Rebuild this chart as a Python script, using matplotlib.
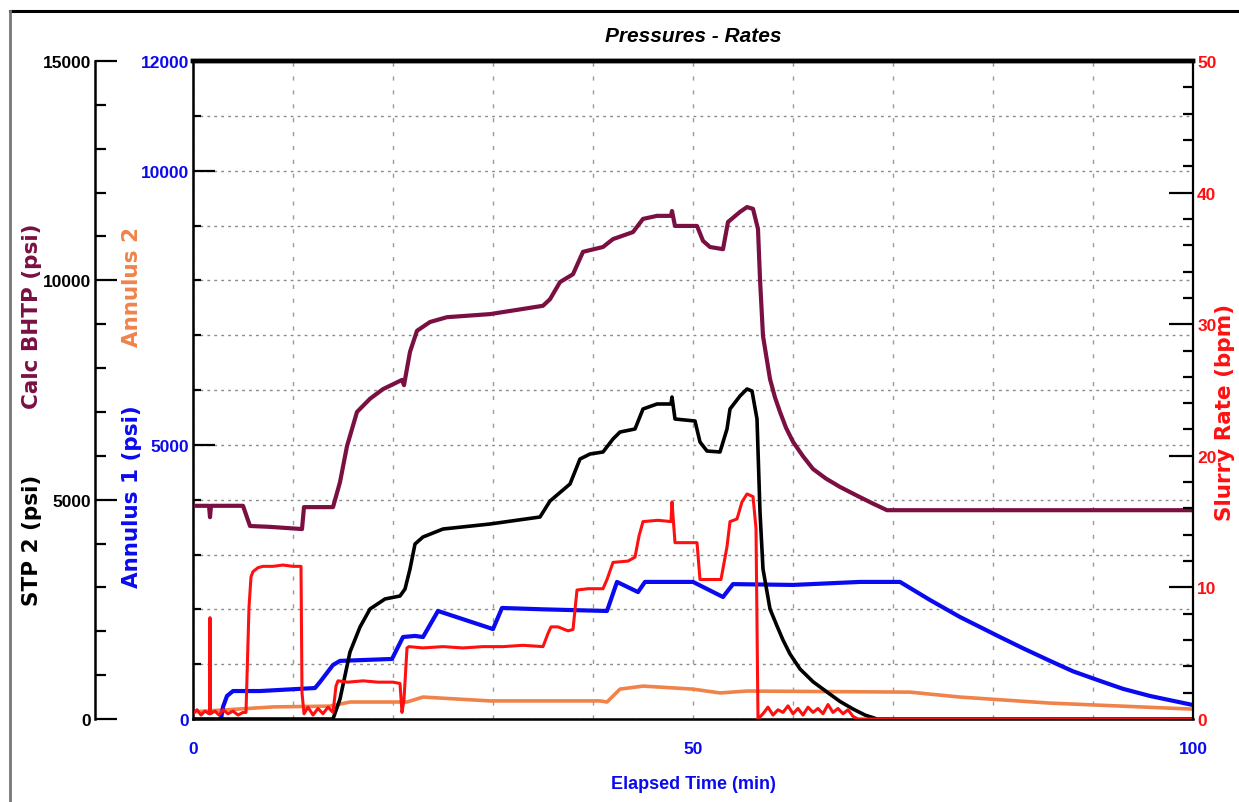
import matplotlib
matplotlib.use('Agg')
import matplotlib.pyplot as plt
from matplotlib.ticker import MultipleLocator, FixedLocator, FuncFormatter
from matplotlib.lines import Line2D

# ---------------- data ----------------
# STP 2 (psi) - black, left outer axis 0-15000
stp_t = [0, 14.0, 14.7, 15.7, 16.7, 17.7, 19.2, 20.7, 21.2, 21.7, 22.2, 23.0, 25.0, 29.7, 34.7, 35.7,
         37.7, 38.7, 39.7, 41.0, 42.0, 42.7, 44.2, 45.0, 46.4, 47.8, 47.9, 48.2, 50.2, 50.7, 51.4, 52.7,
         53.4, 53.7, 54.7, 55.4, 55.9, 56.4, 56.7, 57.0, 57.4, 57.7, 58.4, 59.0, 59.7, 60.7, 62.0, 63.4,
         64.7, 66.0, 67.2, 68.4, 100]
stp_v = [0, 0, 456, 1527, 2097, 2508, 2736, 2804, 2963, 3419, 3989, 4149, 4331, 4445, 4605, 4969,
         5357, 5927, 6041, 6087, 6383, 6542, 6611, 7067, 7181, 7181, 7340, 6839, 6793, 6315, 6109, 6087,
         6611, 7067, 7363, 7523, 7477, 6839, 4719, 3419, 2900, 2508, 2120, 1800, 1482, 1140, 850, 615,
         400, 228, 90, 0, 0]

# Calc BHTP (psi) - purple, same scale as STP 2
bhtp_t = [0, 1.6, 1.7, 1.8, 5.0, 5.7, 7.7, 10.9, 11.1, 14.0, 14.7, 15.4, 16.4, 17.7, 19.0, 20.9, 21.1,
          21.7, 22.4, 23.7, 25.4, 29.7, 35.0, 35.7, 36.7, 38.0, 39.0, 41.0, 42.0, 44.0, 45.0, 46.4, 47.8,
          47.9, 48.2, 50.4, 51.0, 51.7, 53.0, 53.5, 54.7, 55.4, 56.0, 56.5, 56.7, 57.0, 57.7, 58.2, 58.7,
          59.3, 60.0, 61.0, 62.0, 63.3, 64.7, 66.5, 68.0, 69.4, 100]
bhtp_v = [4860, 4860, 4600, 4860, 4860, 4400, 4380, 4330, 4830, 4830, 5400, 6220, 7000, 7300, 7520, 7730,
          7610, 8370, 8850, 9050, 9160, 9230, 9420, 9570, 9960, 10140, 10650, 10760, 10940, 11100, 11400,
          11470, 11470, 11580, 11240, 11240, 10900, 10760, 10710, 11330, 11560, 11670, 11630, 11170, 10030,
          8730, 7750, 7330, 7000, 6640, 6320, 5990, 5700, 5480, 5290, 5080, 4910, 4760, 4760]

# Annulus 1 (psi) - blue, inner left axis 0-12000
ann1_t = [2.8, 3.0, 3.4, 4.0, 6.7, 10.7, 12.2, 12.7, 14.0, 14.7, 19.9, 21.0, 22.2, 23.0, 24.5, 30.0, 30.9,
          35.0, 41.4, 42.4, 44.5, 45.2, 50.0, 53.0, 54.0, 60.0, 66.7, 70.7, 73.7, 76.7, 80.7, 83.0, 85.7,
          88.0, 90.7, 93.0, 95.7, 100]
ann1_v = [0, 220, 420, 510, 510, 550, 565, 675, 985, 1060, 1095, 1495, 1515, 1495, 1970, 1640, 2025,
          2000, 1970, 2500, 2315, 2500, 2500, 2225, 2460, 2445, 2500, 2500, 2170, 1860, 1495, 1290, 1060,
          870, 695, 550, 420, 255]

# Annulus 2 - orange, same scale as Annulus 1
ann2_t = [0, 8, 13.7, 15.7, 21.4, 23.0, 29.7, 40.7, 41.4, 42.7, 45.0, 50.0, 52.7, 55.4, 71.7, 76.7, 85.7, 100]
ann2_v = [130, 220, 235, 310, 310, 400, 330, 330, 310, 545, 600, 545, 475, 510, 490, 400, 290, 180]

# Slurry Rate (bpm) - red, right axis 0-50
rate_t = [0, 0.4, 0.8, 1.2, 1.6, 1.65, 1.7, 1.75, 2.2, 2.6, 3.0, 3.5, 4.0, 4.5, 5.0, 5.3, 5.6, 5.8, 6.0,
          6.5, 7.0, 8.0, 9.0, 10.0, 10.8, 10.9, 11.1, 11.5, 12.0, 12.5, 13.0, 13.5, 14.0, 14.3, 14.5, 15.5,
          17, 18.5, 20.0, 20.7, 20.9, 21.1, 21.4, 21.6, 23, 25, 27, 29, 31, 33, 35.0, 35.5, 35.8, 36.5, 37.5,
          38.0, 38.4, 39.5, 41.0, 41.4, 42.0, 43.5, 44.2, 44.6, 45.0, 46.5, 47.8, 47.9, 48.2, 50.4, 50.7,
          52.8, 53.4, 53.7, 54.4, 54.9, 55.4, 56.0, 56.3, 56.5, 57.0, 57.5, 58.0, 58.5, 59.0, 59.5, 60.0,
          60.5, 61.0, 61.5, 62.0, 62.5, 63.0, 63.5, 64.0, 64.5, 65.0, 65.5, 66.0, 66.5, 100]
rate_v = [0.4, 0.7, 0.3, 0.6, 0.4, 0.4, 7.7, 0.4, 0.6, 0.3, 0.7, 0.4, 0.6, 0.3, 0.5, 0.5, 8.5, 10.8, 11.2,
          11.5, 11.6, 11.6, 11.7, 11.6, 11.6, 2.0, 0.4, 0.9, 0.3, 0.8, 0.4, 0.9, 0.5, 2.5, 2.9, 2.8,
          2.9, 2.8, 2.8, 2.7, 0.5, 1.5, 5.4, 5.5, 5.4, 5.5, 5.4, 5.5, 5.5, 5.6, 5.5, 6.5, 7.0, 7.0, 6.7,
          6.8, 9.8, 9.9, 9.9, 10.6, 11.9, 12.0, 12.3, 13.9, 15.0, 15.1, 15.0, 16.5, 13.4, 13.4, 10.6,
          10.6, 13.1, 15.0, 15.2, 16.5, 17.1, 16.9, 14.5, 0.0, 0.4, 0.9, 0.3, 0.7, 0.5, 1.0, 0.4,
          0.8, 0.3, 0.9, 0.5, 0.8, 0.4, 1.1, 0.5, 0.8, 0.4, 0.7, 0.2, 0.0, 0.0]

x_ticklabels = {0: '0', 50: '50', 100: '100'}

# ---------------- styling ----------------
TICKF = ['Liberation Sans', 'DejaVu Sans']
LABELF = ['DejaVu Sans']
plt.rcParams['font.family'] = TICKF

C_BLUE = '#0a0af0'
C_PURPLE = '#7a0f42'
C_ORANGE = '#f0834a'
C_RED = '#ff1010'
C_BLACK = '#000000'

W, H = 1239, 803
fig = plt.figure(figsize=(W / 100, H / 100), dpi=100)

def fx(px):
    return px / W

def fy(py):
    return 1 - py / H

ax = fig.add_axes([fx(193), fy(720), 1000 / W, 658 / H])
ax_stp = ax.twinx()
ax_rate = ax.twinx()

TS = 12.5

# grid on the base axis (Annulus 1 scale, every 1000 psi) and every 10 min
ax.set_xlim(0, 100)
ax.set_ylim(0, 12000)
ax.xaxis.set_major_locator(MultipleLocator(10))
ax.xaxis.set_major_formatter(FuncFormatter(lambda v, p: x_ticklabels.get(int(round(v)), '')))
ax.tick_params(axis='x', length=0, pad=16, labelsize=TS, labelcolor=C_BLUE)
ax.yaxis.set_major_locator(FixedLocator([0, 5000, 10000, 12000]))
ax.yaxis.set_minor_locator(MultipleLocator(1000))
ax.tick_params(axis='y', which='major', direction='in', length=16, width=1.6, pad=3,
               labelsize=TS, colors=C_BLACK)
ax.tick_params(axis='y', which='major', labelcolor=C_BLUE)
ax.tick_params(axis='y', which='minor', direction='in', length=6, width=1.6)
ax.grid(True, axis='x', which='major', color='#9a9a9a', linestyle=(0, (3, 7)), linewidth=1.0)
ax.grid(True, axis='y', which='both', color='#8a8a8a', linestyle=(0, (2, 3)), linewidth=1.0)
ax.set_axisbelow(True)

# Annulus series
ax.plot(ann2_t, ann2_v, color=C_ORANGE, lw=2.6, solid_joinstyle='round')
ax.plot(ann1_t, ann1_v, color=C_BLUE, lw=3.0, solid_joinstyle='round')

# STP / BHTP axis (outer left)
ax_stp.set_ylim(0, 15000)
ax_stp.yaxis.tick_left()
ax_stp.spines['left'].set_visible(True)
ax_stp.spines['left'].set_position(('axes', (95 - 193) / 1000))
ax_stp.spines['left'].set_linewidth(1.8)
ax_stp.spines['right'].set_visible(False)
ax_stp.spines['top'].set_visible(False)
ax_stp.spines['bottom'].set_visible(False)
ax_stp.yaxis.set_major_locator(MultipleLocator(5000))
ax_stp.yaxis.set_minor_locator(MultipleLocator(1000))
ax_stp.tick_params(axis='y', which='major', direction='in', length=16, width=1.6, pad=3,
                   labelsize=TS, labelcolor=C_BLACK)
ax_stp.tick_params(axis='y', which='minor', direction='in', length=8, width=1.6)
ax_stp.plot(bhtp_t, bhtp_v, color=C_PURPLE, lw=3.0, solid_joinstyle='round')
ax_stp.plot(stp_t, stp_v, color=C_BLACK, lw=2.6, solid_joinstyle='round')

# Rate axis (right)
ax_rate.set_ylim(0, 50)
ax_rate.spines['right'].set_linewidth(1.6)
ax_rate.yaxis.set_major_locator(MultipleLocator(10))
ax_rate.yaxis.set_minor_locator(MultipleLocator(2))
ax_rate.tick_params(axis='y', which='major', direction='in', length=17, width=1.6, pad=3,
                    labelsize=TS, labelcolor=C_RED)
ax_rate.tick_params(axis='y', which='minor', direction='in', length=7, width=1.6)
ax_rate.plot(rate_t, rate_v, color=C_RED, lw=2.2, solid_joinstyle='round')

for a in (ax, ax_stp, ax_rate):
    a.set_xlim(0, 100)
    for lab in a.get_yticklabels() + a.get_xticklabels():
        lab.set_fontweight('bold')
for s in ('left', 'bottom'):
    ax.spines[s].set_linewidth(1.8)
ax.spines['top'].set_linewidth(3.2)
ax.spines['right'].set_visible(False)
ax_rate.spines['top'].set_linewidth(3.2)

# Title and axis labels
LS = 15.5
fig.text(fx(693), fy(37), 'Pressures - Rates', ha='center', va='center', fontsize=15,
         style='italic', fontweight='bold', family=TICKF)
fig.text(fx(693), fy(785), 'Elapsed Time (min)', ha='center', va='center', fontsize=13,
         color=C_BLUE, fontweight='bold', family=TICKF)
fig.text(fx(32), fy(316), 'Calc BHTP (psi)', rotation=90, ha='center', va='center', fontsize=LS,
         color=C_PURPLE, fontweight='bold', family=LABELF)
fig.text(fx(32), fy(540), 'STP 2 (psi)', rotation=90, ha='center', va='center', fontsize=LS,
         color=C_BLACK, fontweight='bold', family=LABELF)
fig.text(fx(132), fy(287), 'Annulus 2', rotation=90, ha='center', va='center', fontsize=LS,
         color=C_ORANGE, fontweight='bold', family=LABELF)
fig.text(fx(132), fy(497), 'Annulus 1 (psi)', rotation=90, ha='center', va='center', fontsize=LS,
         color=C_BLUE, fontweight='bold', family=LABELF)
fig.text(fx(1225), fy(412), 'Slurry Rate (bpm)', rotation=90, ha='center', va='center', fontsize=LS,
         color=C_RED, fontweight='bold', family=LABELF)

# Outer frame lines
fig.add_artist(Line2D([fx(10), fx(1239)], [fy(12), fy(12)], color='black', lw=2.2))
fig.add_artist(Line2D([fx(10), fx(10)], [fy(12), fy(803)], color='#777777', lw=2.0))

fig.savefig('out.png', dpi=100)
